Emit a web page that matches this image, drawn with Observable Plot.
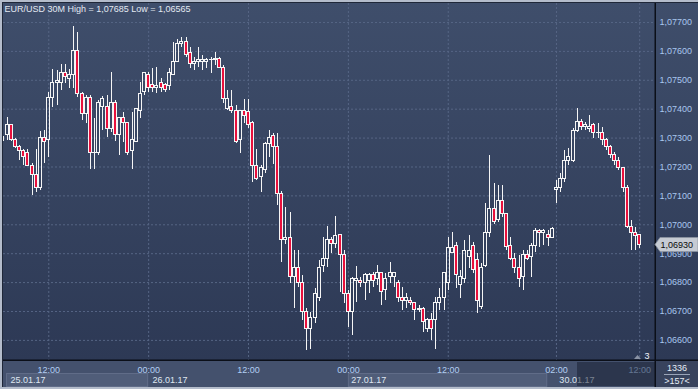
<!DOCTYPE html>
<html><head><meta charset="utf-8">
<script src="https://cdn.jsdelivr.net/npm/d3@7"></script>
<script src="https://cdn.jsdelivr.net/npm/@observablehq/plot@0.6"></script>
<style>
html,body{margin:0;padding:0;background:#2e3a56;}
#chart{width:698px;height:389px;overflow:hidden;}
</style></head><body><div id="chart"></div>
<script>
const title = "EUR/USD 30M High = 1,07685 Low = 1,06565";
const open = [
1.07295,1.07309,1.07344,1.07295,1.07268,1.07254,1.07247,1.07202,1.07171,1.07126,
1.07302,1.07295,1.07440,1.07489,1.07492,1.07524,1.07503,1.07517,1.07603,1.07454,
1.07382,1.07437,1.07247,1.07247,1.07409,1.07409,1.07330,1.07420,1.07312,1.07368,
1.07351,1.07257,1.07288,1.07395,1.07458,1.07520,1.07482,1.07475,1.07489,1.07482,
1.07479,1.07517,1.07562,1.07627,1.07631,1.07593,1.07558,1.07565,1.07565,1.07565,
1.07569,1.07569,1.07575,1.07544,1.07402,1.07409,1.07392,1.07295,1.07392,1.07389,
1.07351,1.07205,1.07164,1.07191,1.07278,1.07306,1.07268,1.07108,1.06949,1.06956,
1.06821,1.06852,1.06800,1.06697,1.06641,1.06676,1.06748,1.06856,1.06883,1.06949,
1.06935,1.06963,1.06894,1.06762,1.06697,1.06807,1.06807,1.06800,1.06807,1.06825,
1.06814,1.06832,1.06773,1.06818,1.06818,1.06800,1.06745,1.06738,1.06738,1.06728,
1.06704,1.06710,1.06638,1.06669,1.06669,1.06728,1.06748,1.06800,1.06904,1.06925,
1.06790,1.06814,1.06887,1.06925,1.06877,1.06714,1.06859,1.06973,1.07056,1.07015,
1.07081,1.07039,1.06925,1.06883,1.06852,1.06818,1.06894,1.06887,1.06928,1.06977,
1.06970,1.06963,1.06956,1.07119,1.07129,1.07157,1.07222,1.07222,1.07326,1.07357,
1.07340,1.07333,1.07344,1.07316,1.07319,1.07292,1.07268,1.07240,1.07222,1.07195,
1.07129,1.06991,1.06973,1.06963];
const high = [
1.07306,1.07371,1.07347,1.07299,1.07274,1.07261,1.07261,1.07212,1.07261,1.07323,
1.07326,1.07458,1.07537,1.07534,1.07555,1.07555,1.07537,1.07685,1.07665,1.07458,
1.07447,1.07447,1.07368,1.07430,1.07444,1.07447,1.07527,1.07430,1.07371,1.07389,
1.07351,1.07389,1.07402,1.07492,1.07527,1.07527,1.07541,1.07544,1.07506,1.07489,
1.07541,1.07631,1.07641,1.07648,1.07648,1.07614,1.07579,1.07614,1.07586,1.07575,
1.07579,1.07596,1.07579,1.07551,1.07465,1.07465,1.07413,1.07395,1.07434,1.07434,
1.07357,1.07261,1.07205,1.07285,1.07326,1.07316,1.07316,1.07115,1.07060,1.07043,
1.06911,1.06911,1.06825,1.06710,1.06697,1.06780,1.06877,1.06956,1.06994,1.06956,
1.07029,1.06963,1.06911,1.06773,1.06818,1.06856,1.06818,1.06832,1.06832,1.06835,
1.06859,1.06832,1.06832,1.06870,1.06835,1.06807,1.06783,1.06762,1.06748,1.06731,
1.06721,1.06714,1.06676,1.06693,1.06748,1.06780,1.06835,1.06956,1.06973,1.06939,
1.06842,1.06946,1.06963,1.06939,1.06901,1.06866,1.07074,1.07240,1.07143,1.07136,
1.07136,1.07039,1.06956,1.06901,1.06894,1.06911,1.06911,1.06935,1.06987,1.06984,
1.06984,1.06980,1.06991,1.07153,1.07178,1.07257,1.07264,1.07333,1.07402,1.07364,
1.07354,1.07378,1.07351,1.07351,1.07337,1.07299,1.07274,1.07250,1.07233,1.07198,
1.07136,1.07015,1.06991,1.06963];
const low = [
1.07288,1.07292,1.07288,1.07264,1.07222,1.07205,1.07202,1.07101,1.07112,1.07119,
1.07212,1.07233,1.07406,1.07413,1.07465,1.07489,1.07472,1.07472,1.07440,1.07361,
1.07351,1.07191,1.07191,1.07240,1.07326,1.07302,1.07319,1.07288,1.07240,1.07285,
1.07240,1.07191,1.07285,1.07368,1.07447,1.07458,1.07458,1.07454,1.07458,1.07458,
1.07465,1.07517,1.07562,1.07614,1.07579,1.07541,1.07534,1.07544,1.07534,1.07541,
1.07524,1.07551,1.07541,1.07420,1.07395,1.07385,1.07281,1.07247,1.07351,1.07333,
1.07146,1.07153,1.07112,1.07178,1.07233,1.07209,1.07068,1.06870,1.06932,1.06797,
1.06710,1.06783,1.06669,1.06565,1.06570,1.06659,1.06735,1.06835,1.06852,1.06901,
1.06918,1.06766,1.06728,1.06645,1.06617,1.06731,1.06783,1.06738,1.06762,1.06783,
1.06790,1.06721,1.06738,1.06797,1.06783,1.06731,1.06704,1.06710,1.06721,1.06669,
1.06697,1.06627,1.06627,1.06600,1.06568,1.06704,1.06704,1.06773,1.06901,1.06780,
1.06745,1.06797,1.06849,1.06832,1.06693,1.06707,1.06852,1.06956,1.07001,1.07008,
1.07025,1.06911,1.06877,1.06832,1.06783,1.06773,1.06877,1.06818,1.06904,1.06922,
1.06928,1.06925,1.06953,1.07074,1.07112,1.07146,1.07205,1.07216,1.07319,1.07326,
1.07326,1.07319,1.07299,1.07299,1.07274,1.07257,1.07229,1.07205,1.07188,1.07112,
1.06987,1.06911,1.06911,1.06918];
const close = [
1.07302,1.07344,1.07292,1.07268,1.07254,1.07236,1.07202,1.07171,1.07126,1.07302,
1.07288,1.07437,1.07489,1.07496,1.07524,1.07510,1.07520,1.07603,1.07454,1.07385,
1.07437,1.07247,1.07250,1.07423,1.07434,1.07333,1.07420,1.07312,1.07368,1.07351,
1.07247,1.07292,1.07399,1.07454,1.07524,1.07475,1.07472,1.07479,1.07475,1.07468,
1.07524,1.07562,1.07627,1.07631,1.07586,1.07558,1.07565,1.07569,1.07569,1.07569,
1.07570,1.07572,1.07544,1.07434,1.07434,1.07392,1.07288,1.07392,1.07378,1.07347,
1.07205,1.07160,1.07195,1.07281,1.07302,1.07268,1.07108,1.06949,1.06956,1.06818,
1.06852,1.06800,1.06697,1.06638,1.06676,1.06759,1.06852,1.06883,1.06946,1.06935,
1.06960,1.06894,1.06759,1.06697,1.06814,1.06814,1.06797,1.06825,1.06825,1.06807,
1.06832,1.06766,1.06814,1.06832,1.06832,1.06745,1.06738,1.06745,1.06728,1.06704,
1.06710,1.06662,1.06669,1.06638,1.06731,1.06748,1.06832,1.06918,1.06918,1.06825,
1.06818,1.06911,1.06911,1.06842,1.06738,1.06852,1.06973,1.07056,1.07008,1.07081,
1.07039,1.06922,1.06883,1.06849,1.06814,1.06894,1.06883,1.06928,1.06980,1.06970,
1.06980,1.06953,1.06987,1.07129,1.07160,1.07222,1.07233,1.07326,1.07354,1.07337,
1.07344,1.07337,1.07316,1.07319,1.07292,1.07268,1.07240,1.07222,1.07195,1.07126,
1.06991,1.06970,1.06960,1.06930];
const priceTicks = [1.066,1.067,1.068,1.069,1.070,1.071,1.072,1.073,1.074,1.075,1.076,1.077];
const timeTickIdx = [11,35,59,83,107,133,153];
const timeTickLabels = ["12:00","00:00","12:00","00:00","12:00","02:00","12:00"];
const dayBoxStart = [0.85,35,83,130.9];
const dayLabels = ["25.01.17","26.01.17","27.01.17","30.01.17"];
const dayLabelIdx = [1.8,35.9,83.7,133.7];
const lastPrice = 1.06930;
const barsLeft = "3";
const cornerTop = "1336";
const cornerBottom = ">157<";

const W = 698, H = 389;
const FONT = "'Liberation Sans', Arial, sans-serif";
const candles = open.map((o, i) => ({
  i, open: o, high: high[i], low: low[i], close: close[i],
  top: Math.max(o, close[i]), bot: Math.min(o, close[i]), up: close[i] >= o
}));
const days = dayLabels.map((t, k) => ({t, x: dayLabelIdx[k]}));
const tickLabel = new Map(timeTickIdx.map((d, k) => [d, timeTickLabels[k]]));
const fmt = p => d3.format(".5f")(p).replace(".", ",");
const WICK = "#f5f5f5", RED = "#e8103c", GRID = "#566584";
const HALF = 0.36;

const svg = Plot.plot({
  width: W, height: H,
  marginLeft: 3, marginRight: 43, marginTop: 3, marginBottom: 29,
  style: {background: "transparent", fontFamily: FONT, fontSize: "9px", overflow: "visible"},
  x: {type: "linear", domain: [0.12, 156.8], axis: null},
  y: {type: "linear", domain: [1.065304, 1.077657], axis: null},
  marks: [
    Plot.ruleX(timeTickIdx, {stroke: GRID, strokeDasharray: "2,2"}),
    Plot.ruleY(priceTicks, {stroke: GRID, strokeDasharray: "2,2"}),
    Plot.ruleX(candles, {x: "i", y1: "high", y2: "top", stroke: WICK, clip: true, shapeRendering: "crispEdges"}),
    Plot.ruleX(candles, {x: "i", y1: "bot", y2: "low", stroke: WICK, clip: true, shapeRendering: "crispEdges"}),
    Plot.rect(candles.filter(d => d.up), {x1: d => d.i - HALF, x2: d => d.i + HALF, y1: "open", y2: "close",
      fill: "none", stroke: WICK, strokeWidth: 1, clip: true, shapeRendering: "crispEdges"}),
    Plot.rect(candles.filter(d => !d.up), {x1: d => d.i - HALF, x2: d => d.i + HALF, y1: "open", y2: "close",
      fill: RED, stroke: WICK, strokeWidth: 1, clip: true, shapeRendering: "crispEdges"}),
    Plot.axisY(priceTicks, {anchor: "right", tickSize: 0, tickPadding: 4, tickFormat: fmt, fill: "#a9c6ee", fontSize: 9}),
    Plot.axisX(timeTickIdx, {anchor: "bottom", tickSize: 0, tickPadding: 6, tickFormat: d => tickLabel.get(d), fill: "#b3cff3", fontSize: 9}),
    Plot.text(days, {x: "x", text: "t", frameAnchor: "bottom", textAnchor: "start", lineAnchor: "top", dy: 16.5, fill: "#dfe6f1", fontSize: 9}),
    Plot.text([title], {text: d => d, frameAnchor: "top-left", textAnchor: "start", lineAnchor: "top", dx: 1, dy: 1.8, fill: "#e3e9f2", fontSize: 9})
  ]
});

const xs = svg.scale("x"), ys = svg.scale("y");
const root = d3.select(svg);
// background layer
const bg = root.insert("g", ":first-child");
const grad = bg.append("defs").append("linearGradient").attr("id", "bgGrad")
  .attr("x1", 0).attr("y1", 0).attr("x2", 0).attr("y2", 1);
grad.append("stop").attr("offset", "0%").attr("stop-color", "#3f4e6b");
grad.append("stop").attr("offset", "100%").attr("stop-color", "#2d3955");
bg.append("rect").attr("x", 0).attr("y", 0).attr("width", W).attr("height", H).attr("fill", "#44516d");
bg.append("rect").attr("x", 0).attr("y", 0).attr("width", W).attr("height", 360).attr("fill", "url(#bgGrad)");
[0, 2].forEach(k => {
  const x0 = xs.apply(dayBoxStart[k]), x1 = xs.apply(dayBoxStart[k + 1]);
  bg.append("rect").attr("x", x0 + 0.5).attr("y", 373.5).attr("width", x1 - x0 - 1).attr("height", 13)
    .attr("fill", "#505d79").attr("stroke", "#606c88");
});

// foreground layer
const fg = root.append("g");
fg.append("rect").attr("x", 577).attr("y", 362).attr("width", 78).attr("height", 24).attr("fill", "rgba(20,27,45,0.5)");
fg.append("rect").attr("x", 656).attr("y", 361).attr("width", 42).attr("height", 26).attr("fill", "#38435d");
fg.append("text").attr("x", 677).attr("y", 371).attr("text-anchor", "middle").attr("fill", "#e6ecf6")
  .attr("font-family", FONT).attr("font-size", 9).text(cornerTop);
fg.append("rect").attr("x", 664).attr("y", 374).attr("width", 26).attr("height", 1).attr("fill", "#9aa4b8");
fg.append("text").attr("x", 677).attr("y", 384).attr("text-anchor", "middle").attr("fill", "#e6ecf6")
  .attr("font-family", FONT).attr("font-size", 9).text(cornerBottom);
// frame lines
fg.append("rect").attr("x", 3).attr("y", 359.5).attr("width", 695).attr("height", 1.5).attr("fill", "#0b0f18");
fg.append("rect").attr("x", 654.5).attr("y", 3).attr("width", 1.5).attr("height", 384).attr("fill", "#0b0f18");
fg.append("rect").attr("x", 0).attr("y", 0).attr("width", W).attr("height", 2).attr("fill", "#b4bccb");
fg.append("rect").attr("x", 2).attr("y", 2).attr("width", W - 2).attr("height", 1).attr("fill", "#1f2738");
fg.append("rect").attr("x", 0).attr("y", 0).attr("width", 2).attr("height", H).attr("fill", "#b4bccb");
fg.append("rect").attr("x", 2).attr("y", 2).attr("width", 1).attr("height", 385).attr("fill", "#1f2738");
fg.append("rect").attr("x", 0).attr("y", 387).attr("width", W).attr("height", 2).attr("fill", "#b4bccb");
// last price label
const yp = ys.apply(lastPrice);
fg.append("polygon").attr("points", `655,${yp} 660,${yp - 7} 698,${yp - 7} 698,${yp + 7} 660,${yp + 7}`)
  .attr("fill", "#c6cbd3").attr("stroke", "#8d94a2").attr("stroke-width", 0.8);
fg.append("text").attr("x", 660.5).attr("y", yp + 3.2).attr("fill", "#0a0a0a").attr("font-family", FONT)
  .attr("font-size", "9px").attr("text-anchor", "start").text(fmt(lastPrice));
// shift marker
fg.append("polygon").attr("points", "634,359 637.5,355 641,359").attr("fill", "#8a93a5");
fg.append("text").attr("x", 647).attr("y", 358.5).attr("text-anchor", "middle").attr("fill", "#eef2f8")
  .attr("font-family", FONT).attr("font-size", 9).text(barsLeft);

document.getElementById("chart").appendChild(svg);
</script>
</body></html>
